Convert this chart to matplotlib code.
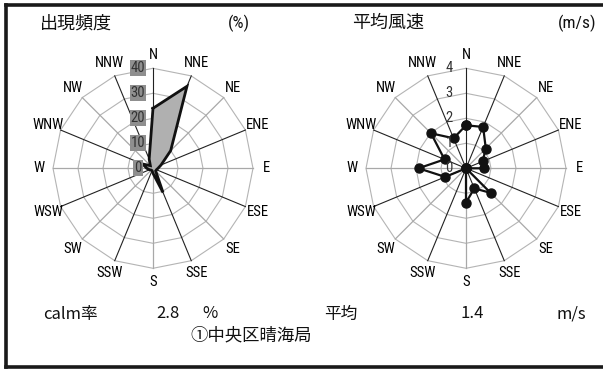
import numpy as np
import matplotlib
matplotlib.use("Agg")
import matplotlib.pyplot as plt
from matplotlib.lines import Line2D
from matplotlib import font_manager

# ---------------- data ----------------
directions = ["N", "NNE", "NE", "ENE", "E", "ESE", "SE", "SSE",
              "S", "SSW", "SW", "WSW", "W", "WNW", "NW", "NNW"]
freq_pct = [24, 35.5, 10, 3.5, 2, 1.5, 1.5, 10.5,
            2, 1, 1, 1.5, 2.5, 4.5, 1.5, 4]
speed_ms = [1.72, 1.79, 1.12, 0.72, 0.73, 0, 1.39, 0.87,
            1.37, 0, 0, 0.9, 1.9, 0.93, 1.98, 1.3]
freq_ticks = [0, 10, 20, 30, 40]
speed_ticks = [0, 1, 2, 3, 4]
calm_rate = "2.8"
mean_speed = "1.4"
station = "①中央区晴海局"

W, H = 603, 370
fig = plt.figure(figsize=(W / 100, H / 100), dpi=100)
fig.patch.set_facecolor("white")

_avail = {f.name for f in font_manager.fontManager.ttflist}
NARROW = [f for f in ["Liberation Sans Narrow", "DejaVu Sans Condensed",
                      "Roboto Condensed", "Open Sans Condensed"]
          if f in _avail] + ["DejaVu Sans"]
CJK = ["Noto Sans CJK JP", "DejaVu Sans"]

def fx(x):
    return x / W

def fy(y):
    return 1 - y / H

theta = np.deg2rad(np.arange(16) * 22.5)
theta_c = np.append(theta, theta[0])


def make_polar(cx, cy, R, rmax, ticks, boxed):
    ax = fig.add_axes([fx(cx - R), fy(cy + R), 2 * R / W, 2 * R / H],
                      projection="polar")
    ax.set_theta_zero_location("N")
    ax.set_theta_direction(-1)
    ax.set_ylim(0, rmax)
    ax.grid(False)
    ax.set_xticks([])
    ax.set_yticks([])
    ax.spines["polar"].set_visible(False)
    ax.patch.set_visible(False)
    # polygon rings
    for t in ticks[1:]:
        ax.plot(theta_c, [t] * 17, color="#b4b4b4", lw=0.8, zorder=1,
                clip_on=False)
    # spokes
    for i, th in enumerate(theta):
        dark = (i % 2 == 1) or i == 0
        ax.plot([th, th], [0, rmax], color="#222222" if dark else "#a8a8a8",
                lw=0.8 if dark else 0.9, zorder=2, clip_on=False)
    # direction labels
    for th, lab in zip(theta, directions):
        ax.text(th, rmax * 1.135, lab, ha="center", va="center",
                fontsize=10.5, family=NARROW, color="#000000")
    # radial tick labels
    for t in ticks:
        if boxed:
            ax.annotate(str(t), xy=(0, t), xytext=(-15, 0),
                        textcoords="offset pixels", ha="center", va="center",
                        fontsize=10.5, family=NARROW, color="#333333",
                        bbox=dict(boxstyle="square,pad=0.06", fc="#8f8f8f",
                                  ec="none"), zorder=6)
        else:
            ax.annotate(str(t), xy=(0, t), xytext=(-17, 0),
                        textcoords="offset pixels", ha="center", va="center",
                        fontsize=10.5, family=NARROW, color="#333333",
                        zorder=6)
    return ax


# left: frequency
axL = make_polar(153, 168.3, 100, 40, freq_ticks, True)
fvals = np.append(freq_pct, freq_pct[0])
axL.fill(theta_c, fvals, color="#b0b0b0", zorder=3)
axL.plot(theta_c, fvals, color="#111111", lw=2.0, zorder=4,
         solid_joinstyle="miter")

# right: mean wind speed
axR = make_polar(466, 168.3, 100, 4, speed_ticks, False)
svals = np.append(speed_ms, speed_ms[0])
axR.plot(theta_c, svals, color="#111111", lw=1.6, zorder=4,
         marker="o", markersize=6.5, markerfacecolor="#111111",
         markeredgecolor="#111111")

# titles
fig.text(fx(40), fy(23), "出現頻度", family=CJK, fontsize=13,
         ha="left", va="center", color="#111111")
fig.text(fx(239), fy(23), "(%)", family=NARROW, fontsize=12.5,
         ha="center", va="center", color="#111111")
fig.text(fx(352), fy(23), "平均風速", family=CJK, fontsize=13,
         ha="left", va="center", color="#111111")
fig.text(fx(577), fy(23), "(m/s)", family=NARROW, fontsize=12.5,
         ha="center", va="center", color="#111111")

# bottom info
bkw = dict(family=CJK, fontsize=12, va="center", color="#111111")
fig.text(fx(43), fy(314), "calm率", ha="left", **bkw)
fig.text(fx(168), fy(314), calm_rate, ha="center", **bkw)
fig.text(fx(210), fy(314), "%", ha="center", **bkw)
fig.text(fx(341), fy(314), "平均", ha="center", **bkw)
fig.text(fx(472), fy(314), mean_speed, ha="center", **bkw)
fig.text(fx(571), fy(314), "m/s", ha="center", **bkw)
fig.text(fx(251), fy(335), station, family=CJK, fontsize=12.5,
         ha="center", va="center", color="#111111")

# frame (left, top, bottom)
frame_kw = dict(color="#1a1a1a", lw=2.6, transform=fig.transFigure,
                solid_capstyle="projecting")
fig.add_artist(Line2D([fx(5.5), fx(5.5)], [fy(5), fy(366.5)], **frame_kw))
fig.add_artist(Line2D([fx(5.5), fx(603)], [fy(5), fy(5)], **frame_kw))
fig.add_artist(Line2D([fx(5.5), fx(603)], [fy(366.5), fy(366.5)], **frame_kw))

fig.savefig("out.png", dpi=100, facecolor="white")
